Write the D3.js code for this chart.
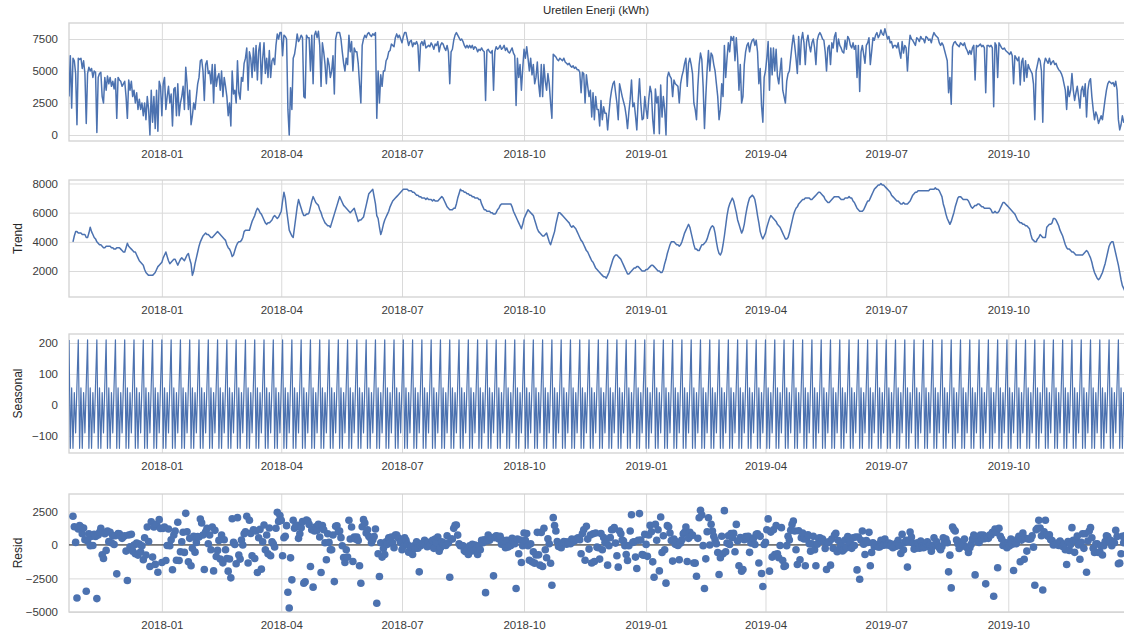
<!DOCTYPE html>
<html lang="en">
<head>
<meta charset="UTF-8">
<title>Uretilen Enerji (kWh) - seasonal decomposition</title>
<script src="https://d3js.org/d3.v7.min.js"></script>
<style>
  body { margin: 0; background: #fff; font-family: "Liberation Sans", Arial, sans-serif; }
  .tick text { fill: #3b3b3b; font-size: 11.5px; font-family: "Liberation Sans", Arial, sans-serif; }
  .tick line { stroke: #dadada; stroke-width: 1; }
  .domain { display: none; }
</style>
</head>
<body>
<div id="chart"></div>
<script>
// daily series, first day of the data
const startDay = "2017-10-23";

// observed production, hundreds of kWh, one value per day
const observedH = [
30,62,21,60,58,48,8, 60,59,60,52,58,48,9, 48,53,50,52,45,50,49, 2,45,48,49,30,25,45,
35,46,40,45,38,42,36, 44,13,45,43,42,38,40, 42,30,13,43,35,42,30, 35,25,33,20,28,20,25,
15,25,12,30,20,0,35, 10,30,5,35,3,42,38, 15,40,45,20,30,38,25, 32,7,36,37,15,40,15,
25,30,38,20,53,40,20, 35,8,15,25,20,30,40, 45,58,59,50,27,55,58, 48,50,40,55,25,55,38,
45,48,35,50,30,45,38, 30,15,25,7,50,32,35, 25,58,33,28,45,42,56, 60,68,35,65,60,45,68,
50,70,43,66,72,40,60, 72,48,60,45,66,45,58, 60,55,70,79,75,80,80, 62,78,77,75,20,0,37,
20,60,63,70,79,73,75, 78,76,30,29,78,76,76, 50,78,40,78,81,76,81, 70,38,72,65,55,40,60,
55,45,50,62,32,75,80, 80,80,75,65,56,50,60, 55,78,65,73,50,68,65, 65,56,40,25,70,75,78,
76,79,80,78,77,79,78, 80,13,50,25,47,38,50, 50,58,60,65,66,71,70, 69,76,79,76,78,75,72,
77,80,80,75,70,73,74, 69,72,71,73,70,50,71, 73,70,74,68,69,70,69, 72,70,67,71,70,73,65,
70,72,71,68,66,70,65, 40,65,67,74,78,80,78, 76,74,75,73,70,68,70, 68,70,68,70,67,69,68,
65,67,66,68,66,65,27, 66,67,65,64,66,35,65, 69,67,68,70,67,68,70, 66,68,65,64,66,68,64,
62,23,60,45,55,35,52, 67,60,69,60,50,60,47, 55,40,45,57,40,30,55, 30,55,42,35,48,40,25,
13,63,62,61,59,58,60, 59,58,60,57,56,55,56, 54,53,54,52,53,51,51, 49,33,49,48,25,47,38,
30,35,14,33,12,30,20, 20,7,27,12,22,17,17, 4,17,28,35,40,42,33, 25,12,40,35,30,26,22,
15,5,18,28,43,22,25, 15,4,27,44,25,12,13, 30,20,13,28,38,33,12, 1,36,25,30,1,39,14,
30,20,0,45,49,46,44, 30,43,40,39,38,25,40, 46,50,56,60,38,56,60, 55,48,25,20,12,38,55,
64,59,38,5,30,51,66, 50,64,62,55,50,40,30, 12,20,40,30,70,45,60, 72,65,77,74,77,58,76,
60,35,55,25,30,55,65, 70,72,65,71,74,75,70, 74,65,40,52,23,10,45, 50,60,73,35,68,47,68,
50,67,46,40,50,60,35, 30,25,42,48,50,60,70, 78,70,60,48,77,55,74, 80,72,55,73,78,70,65,
72,75,68,55,74,78,80, 78,75,74,65,50,68,70, 55,72,68,77,80,65,75, 70,68,65,64,74,67,77,
75,70,68,72,67,70,45, 70,34,65,70,63,56,70, 72,76,55,65,76,74,78, 80,76,78,82,79,78,83,
79,75,77,72,73,68,70, 70,68,72,65,60,73,64, 70,68,50,68,78,75,74, 72,70,76,75,73,77,75,
75,72,77,76,74,75,72, 77,80,78,77,76,72,70, 72,70,66,62,58,33,45, 24,69,72,73,71,70,69,
72,71,70,72,68,66,63, 66,63,68,70,43,70,69, 70,71,69,70,68,33,70, 70,69,70,68,22,72,70,
45,72,70,68,67,68,66, 65,64,63,65,62,40,62, 60,58,61,39,57,60,42, 58,45,55,52,50,48,40,
12,50,55,60,58,50,10, 55,60,58,56,60,55,57, 58,55,56,53,51,50,48, 45,40,35,20,38,30,35,
48,35,27,33,38,30,21, 35,38,30,40,14,35,42, 44,30,20,12,18,15,9, 12,15,12,20,28,35,40,
42,41,40,41,38,42,35, 12,4,8,15,10,12,8, 14,10
];

// trend, hundreds of kWh (centred 7-day window, so the ends are empty)
const trendH = [
null,null,null,
40,44,47,47,46,46,46, 45,45,45,43,43,46,50, 47,45,43,42,40,39,38, 38,37,36,36,37,37,37,
37,36,36,35,35,36,36, 36,35,34,33,33,36,39, 37,36,35,34,33,33,31, 29,27,26,25,24,21,19,
18,17,17,17,17,18,19, 21,23,24,25,26,29,31, 33,30,27,25,26,27,28, 28,26,24,26,28,29,28,
27,29,31,32,28,25,17, 20,25,29,33,37,40,42, 44,45,46,45,45,44,43, 43,44,45,46,47,46,45,
44,43,42,41,38,36,35, 33,30,31,34,37,39,40, 40,41,43,47,48,48,48, 48,51,54,56,58,61,63,
62,60,59,57,55,53,52, 53,53,54,55,57,58,57, 56,57,59,61,68,74,70, 62,55,48,46,44,43,50,
57,64,69,66,63,60,58, 58,59,59,60,64,68,71, 69,67,66,65,62,60,57, 55,53,52,51,51,50,53,
56,59,62,65,68,71,69, 67,65,64,63,62,61,60, 61,62,63,60,57,54,55, 55,56,57,61,65,69,73,
74,75,76,71,66,58,56, 50,45,48,52,55,57,59, 61,64,66,68,69,70,71, 72,73,74,75,76,76,76,
76,75,75,75,74,74,73, 72,72,71,71,70,70,70, 69,70,69,69,69,68,69, 68,68,68,69,70,71,70,
68,66,64,63,62,62,62, 63,63,66,70,73,76,75, 75,74,74,73,73,72,72, 71,71,70,70,70,69,69,
66,64,62,62,61,61,61, 60,60,59,59,60,62,63, 65,66,66,66,66,66,66, 66,66,64,61,59,57,55,
53,51,49,52,56,58,60, 62,61,60,59,58,55,52, 49,47,46,45,44,44,45, 46,43,40,38,41,44,47,
52,56,60,60,59,58,57, 56,55,54,53,51,50,51, 50,49,47,45,43,41,40, 38,36,34,33,31,29,27,
26,24,22,21,20,19,18, 17,16,16,15,17,19,22, 25,28,30,31,31,30,29, 28,26,24,22,20,18,18,
19,20,21,22,22,23,23, 22,21,20,20,20,21,21, 22,23,24,24,23,22,21, 20,20,19,19,21,25,28,
32,35,38,40,40,40,39, 38,38,37,38,40,43,46, 48,50,52,50,46,42,38, 35,35,34,34,36,38,38,
39,40,42,45,48,50,51, 50,46,40,35,32,31,33, 38,44,51,58,63,66,68, 70,68,64,60,55,52,49,
46,48,52,58,63,67,70, 71,72,71,69,64,58,53, 47,44,42,44,46,50,53, 56,58,57,56,55,54,52,
51,50,48,46,44,42,42, 43,46,50,54,58,61,63, 64,66,67,68,69,69,70, 70,70,70,69,69,70,71,
72,73,74,74,73,72,71, 69,68,67,67,68,69,70, 71,71,71,71,70,69,69, 69,70,70,70,71,70,70,
68,67,65,63,62,61,61, 61,62,64,66,68,68,70, 72,74,76,77,78,79,79, 80,79,79,78,77,76,75,
74,72,71,70,69,68,68, 67,66,66,67,66,66,66, 67,68,70,72,73,74,74, 75,75,75,75,75,75,75,
75,75,76,76,76,76,77, 76,76,75,73,71,66,63, 59,56,54,52,54,57,60, 64,67,70,71,71,70,69,
69,69,69,68,66,64,63, 64,65,65,66,66,65,64, 64,63,63,63,63,63,62, 60,60,61,60,60,61,63,
65,67,67,66,65,64,63, 62,61,60,59,57,55,54, 53,53,52,52,51,51,50, 49,45,42,41,40,40,42,
43,45,44,43,43,43,50, 51,52,52,53,56,56,55, 53,51,48,46,44,41,38, 36,35,35,34,33,33,32,
31,31,31,31,31,31,32, 33,34,33,31,29,26,22, 19,17,15,14,15,17,19, 22,25,29,33,37,39,40,
40,36,32,28,24,19,14, 10,8,6,
null,null,null
];

// weekly seasonal pattern, kWh (starts on the first day)
const seasonalWeek = [210, -140, 55, -140, 40, -90, 65];

const xTickLabels = ["2018-01", "2018-04", "2018-07", "2018-10", "2019-01", "2019-04", "2019-07", "2019-10"];
const observedTicks = [0, 2500, 5000, 7500];
const trendTicks = [2000, 4000, 6000, 8000];
const seasonalTicks = [-100, 0, 100, 200];
const residTicks = [-5000, -2500, 0, 2500];

const W = 1124, H = 639;
const left = 69, right = 1129;
const blue = "#4c72b0";

const parseDay = d3.utcParse("%Y-%m-%d");
const t0 = parseDay(startDay);
const rows = observedH.map((v, i) => {
    const obs = v * 100;
    const tr = trendH[i] == null ? null : trendH[i] * 100;
    const se = seasonalWeek[i % 7];
    return {
        date: d3.utcDay.offset(t0, i),
        observed: obs,
        trend: tr,
        seasonal: se,
        resid: tr == null ? null : obs - tr - se
    };
});

const x = d3.scaleUtc()
    .domain([rows[0].date, rows[rows.length - 1].date])
    .range([left, right]);
const xTickDates = xTickLabels.map(s => parseDay(s + "-01"));

const svg = d3.select("#chart").append("svg")
    .attr("width", W).attr("height", H)
    .style("display", "block");

// title of the first panel
svg.append("text")
    .attr("x", 596).attr("y", 14)
    .attr("text-anchor", "middle")
    .attr("font-size", 11.5).attr("fill", "#262626")
    .text("Uretilen Enerji (kWh)");

const panels = [
    {key: "observed", label: null, top: 23, bottom: 141, domain: [-469, 8750], ticks: observedTicks, kind: "line", width: 1.5},
    {key: "trend", label: "Trend", top: 180, bottom: 297, domain: [217, 8240], ticks: trendTicks, kind: "line", width: 1.5},
    {key: "seasonal", label: "Seasonal", top: 334, bottom: 453, domain: [-155, 229], ticks: seasonalTicks, kind: "line", width: 1.2},
    {key: "resid", label: "Resid", top: 494, bottom: 612, domain: [-5012, 3806], ticks: residTicks, kind: "dots"}
];

panels.forEach((p, k) => {
    const y = d3.scaleLinear().domain(p.domain).range([p.bottom, p.top]);
    const g = svg.append("g");
    const h = p.bottom - p.top;

    // y grid + labels
    g.append("g")
        .attr("transform", `translate(${left},0)`)
        .call(d3.axisLeft(y).tickValues(p.ticks).tickFormat(d3.format("d"))
            .tickSize(-(right - left)).tickPadding(11));

    // x grid + labels
    g.append("g")
        .attr("transform", `translate(0,${p.bottom})`)
        .call(d3.axisBottom(x).tickValues(xTickDates).tickFormat(d3.utcFormat("%Y-%m"))
            .tickSize(-h).tickPadding(9));

    g.selectAll(".tick text").attr("fill", "#3b3b3b");

    // frame
    g.append("rect")
        .attr("x", left).attr("y", p.top)
        .attr("width", right - left).attr("height", h)
        .attr("fill", "none").attr("stroke", "#d2d2d2").attr("stroke-width", 1.3);

    const clipId = "clip" + k;
    svg.append("clipPath").attr("id", clipId)
        .append("rect")
        .attr("x", left).attr("y", p.top)
        .attr("width", right - left).attr("height", h);

    const plot = g.append("g").attr("clip-path", `url(#${clipId})`);

    if (p.kind === "line") {
        const line = d3.line()
            .defined(d => d[p.key] != null)
            .x(d => x(d.date))
            .y(d => y(d[p.key]));
        plot.append("path")
            .datum(rows)
            .attr("d", line)
            .attr("fill", "none")
            .attr("stroke", blue)
            .attr("stroke-width", p.width)
            .attr("stroke-linejoin", "round");
    } else {
        plot.append("line")
            .attr("x1", left).attr("x2", right)
            .attr("y1", y(0)).attr("y2", y(0))
            .attr("stroke", "#4a4a4a").attr("stroke-width", 1.2);
        plot.selectAll("circle")
            .data(rows.filter(d => d.resid != null))
            .join("circle")
            .attr("cx", d => x(d.date))
            .attr("cy", d => y(d.resid))
            .attr("r", 3.8)
            .attr("fill", blue);
    }

    if (p.label) {
        svg.append("text")
            .attr("transform", `translate(18,${(p.top + p.bottom) / 2}) rotate(-90)`)
            .attr("text-anchor", "middle")
            .attr("dy", "0.35em")
            .attr("font-size", 12).attr("fill", "#262626")
            .text(p.label);
    }
});
</script>
</body>
</html>
